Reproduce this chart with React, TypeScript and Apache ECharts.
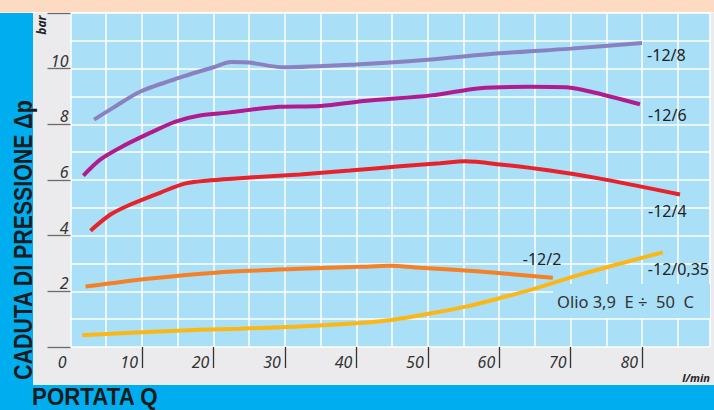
import React, { useEffect, useRef } from "react";
import * as echarts from "echarts";

const seriesNames = ["-12/8", "-12/6", "-12/4", "-12/2", "-12/0,35"];
const seriesColors = ["#8A81C1", "#B11B8E", "#E8222B", "#F58025", "#FDB714"];

const x128 = [3.3, 6, 9.8, 15.8, 20, 22.5, 25, 29.8, 40, 50, 60, 70, 80];
const y128 = [8.17, 8.6, 9.18, 9.72, 10.05, 10.24, 10.22, 10.05, 10.15, 10.32, 10.55, 10.72, 10.92];

const x126 = [1.8, 4.2, 7, 11.2, 14.7, 18.1, 22.3, 26, 29.3, 35, 41.5, 50.5, 57.3, 64.3, 69.4, 72.7, 79.7];
const y126 = [6.16, 6.74, 7.17, 7.7, 8.1, 8.32, 8.43, 8.55, 8.63, 8.66, 8.85, 9.04, 9.3, 9.35, 9.33, 9.18, 8.72];

const x124 = [2.8, 5.6, 8.4, 12.6, 16.1, 19.6, 25.1, 32.1, 39.1, 46.1, 51.7, 55.2, 60.1, 67.1, 74.1, 79.7, 85.3];
const y124 = [4.18, 4.76, 5.12, 5.55, 5.88, 5.99, 6.09, 6.2, 6.34, 6.49, 6.6, 6.67, 6.56, 6.34, 6.05, 5.77, 5.48];

const x122 = [2.1, 11.2, 20.3, 32.1, 40.5, 44.7, 48.9, 57.3, 67.5];
const y122 = [2.17, 2.46, 2.67, 2.81, 2.88, 2.92, 2.85, 2.71, 2.49];

const x12035 = [1.65, 10, 18.1, 23.8, 32.1, 41.5, 45.2, 50.7, 55.5, 60, 65, 71.3, 77, 82.9];
const y12035 = [0.42, 0.53, 0.62, 0.66, 0.74, 0.88, 0.98, 1.22, 1.46, 1.75, 2.1, 2.6, 3.0, 3.4];

const seriesX = [x128, x126, x124, x122, x12035];
const seriesY = [y128, y126, y124, y122, y12035];
const labelOffsets = [[-3, 12], [0, 11], [-40, 17], [-38, -19], [-23, 17]];

const xTickValues = [10, 20, 30, 40, 50, 60, 70, 80];
const xLabelValues = [0, 10, 20, 30, 40, 50, 60, 70, 80];

const FONT = "'Noto Sans', 'Open Sans', sans-serif";
const BOLD = "'Liberation Sans', Arial, sans-serif";
const BLUE = "#00ADEF";
const PLOT = "#A9DFF7";

export default function App() {
  const ref = useRef<HTMLDivElement>(null);
  useEffect(() => {
    if (!ref.current) return;
    const chart = echarts.init(ref.current, undefined, { renderer: "svg" });
    const series = seriesNames.map((name, i) => ({
      name,
      type: "line",
      xAxisIndex: 0,
      yAxisIndex: 0,
      data: seriesX[i].map((x, j) => [x, seriesY[i][j]]),
      showSymbol: false,
      smooth: 0.3,
      z: 3,
      lineStyle: { width: 4, color: seriesColors[i], cap: "butt" },
      endLabel: {
        show: true,
        formatter: name,
        offset: labelOffsets[i],
        fontSize: 16,
        color: "#222",
        fontFamily: FONT,
      },
    }));
    chart.setOption({
      animation: false,
      backgroundColor: "#EBEBED",
      grid: {
        left: 70.5,
        right: 4,
        top: 13,
        bottom: 63,
        show: true,
        backgroundColor: PLOT,
        borderWidth: 0,
      },
      xAxis: [
        {
          type: "value",
          min: 0,
          max: 89.5,
          interval: 5,
          axisLine: { show: false },
          axisTick: { show: false },
          axisLabel: { show: false },
          splitLine: { show: true, lineStyle: { color: "#ffffff", width: 1.5 } },
        },
        {
          type: "value",
          position: "bottom",
          min: 0,
          max: 89.5,
          interval: 10,
          axisLine: { show: false },
          splitLine: { show: false },
          axisTick: {
            show: true,
            length: 21,
            customValues: xTickValues,
            lineStyle: { color: "#333", width: 1.3 },
          },
          axisLabel: {
            customValues: xLabelValues,
            formatter: (v: number) => (v % 10 === 0 ? String(v) : ""),
            align: "right",
            padding: [0, 4, 0, 0],
            margin: 7,
            fontSize: 16,
            fontStyle: "italic",
            color: "#333",
            fontFamily: FONT,
          },
        },
      ],
      yAxis: [
        {
          type: "value",
          min: 0,
          max: 12,
          interval: 1,
          axisLine: { show: false },
          axisTick: { show: false },
          axisLabel: { show: false },
          splitLine: { show: true, lineStyle: { color: "#ffffff", width: 1.5 } },
        },
        {
          type: "value",
          position: "left",
          min: 0,
          max: 12,
          interval: 2,
          axisLine: { show: false },
          splitLine: { show: false },
          axisTick: { show: true, length: 23, lineStyle: { color: "#6a6a6a", width: 1.3 } },
          axisLabel: {
            formatter: (v: number) => (v > 0 && v < 12 ? String(v) : ""),
            align: "right",
            verticalAlign: "bottom",
            margin: 2,
            fontSize: 16,
            fontStyle: "italic",
            color: "#333",
            fontFamily: FONT,
          },
        },
      ],
      series,
      graphic: [
        { type: "rect", shape: { x: 0, y: 0, width: 714, height: 12 }, style: { fill: "#FDDAC2" } },
        { type: "rect", shape: { x: 0, y: 12, width: 714, height: 1 }, style: { fill: "#FFF6F0" } },
        { type: "rect", shape: { x: 0, y: 13, width: 33, height: 397 }, style: { fill: BLUE } },
        { type: "rect", shape: { x: 0, y: 385, width: 714, height: 25 }, style: { fill: BLUE } },
        { type: "rect", z: 1, shape: { x: 553, y: 284, width: 157, height: 34 }, style: { fill: PLOT } },
        {
          type: "text",
          z: 1,
          x: 557,
          y: 301.5,
          style: {
            text: "Olio 3,9  E ÷  50  C",
            fontSize: 16.5,
            fill: "#333",
            fontFamily: FONT,
            verticalAlign: "middle",
            align: "left",
          },
        },
        {
          type: "text",
          x: 23,
          y: 240,
          rotation: Math.PI / 2,
          scaleX: 0.82,
          style: {
            text: "CADUTA DI PRESSIONE Δp",
            fontSize: 26,
            fontWeight: "bold",
            fill: "#1c1c1c",
            fontFamily: BOLD,
            align: "center",
            verticalAlign: "middle",
          },
        },
        {
          type: "text",
          x: 32,
          y: 397,
          scaleX: 0.93,
          style: {
            text: "PORTATA Q",
            fontSize: 24,
            fontWeight: "bold",
            fill: "#1c1c1c",
            fontFamily: BOLD,
            align: "left",
            verticalAlign: "middle",
          },
        },
        {
          type: "text",
          x: 41,
          y: 25,
          rotation: Math.PI / 2,
          style: {
            text: "bar",
            fontSize: 12,
            fontWeight: "bold",
            fontStyle: "italic",
            fill: "#222",
            fontFamily: FONT,
            align: "center",
            verticalAlign: "middle",
          },
        },
        {
          type: "text",
          x: 710,
          y: 377,
          style: {
            text: "l/min",
            fontSize: 11,
            fontWeight: "bold",
            fontStyle: "italic",
            fill: "#222",
            fontFamily: FONT,
            align: "right",
            verticalAlign: "middle",
          },
        },
      ],
    });
    return () => chart.dispose();
  }, []);
  return (
    <div
      ref={ref}
      style={{ position: "fixed", left: 0, top: 0, width: 714, height: 410 }}
    />
  );
}
